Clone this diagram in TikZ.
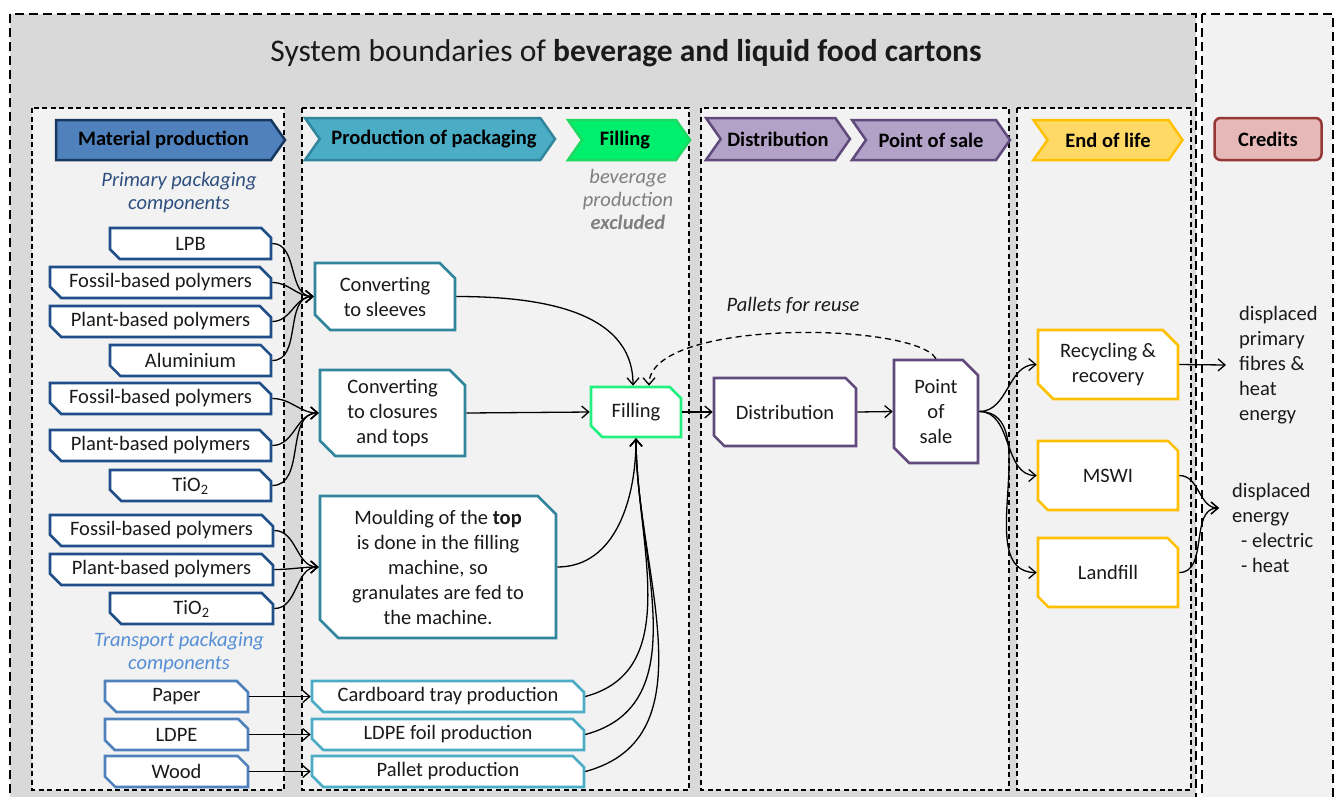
\documentclass[tikz,border=0pt]{standalone}
\usepackage{fontspec}
\setmainfont{Carlito}
\usetikzlibrary{shapes.misc,shapes.symbols,arrows.meta}
\definecolor{cGray}{HTML}{D9D9D9}
\definecolor{cPanel}{HTML}{F2F2F2}
\definecolor{cMatF}{HTML}{4F81BD}
\definecolor{cMatD}{HTML}{17375E}
\definecolor{cMatBox}{HTML}{1F4E89}
\definecolor{cTrBox}{HTML}{4F81BD}
\definecolor{cProdF}{HTML}{4BACC6}
\definecolor{cProdD}{HTML}{31859C}
\definecolor{cFillF}{HTML}{00F06E}
\definecolor{cFillD}{HTML}{1ED860}
\definecolor{cFillBox}{HTML}{22F07E}
\definecolor{cDistF}{HTML}{B3A2C7}
\definecolor{cDistD}{HTML}{604A7B}
\definecolor{cEolF}{HTML}{FFD966}
\definecolor{cEolD}{HTML}{FFC000}
\definecolor{cCredF}{HTML}{E6B9B8}
\definecolor{cCredD}{HTML}{953735}
\definecolor{cPrim}{HTML}{2E4F7F}
\definecolor{cTrans}{HTML}{558ED5}
\definecolor{cExcl}{HTML}{7F7F7F}
\definecolor{cText}{HTML}{1A1A1A}
\begin{document}
\begin{tikzpicture}[x=1pt,y=-1pt,
  txt/.style={font=\fontsize{20.5}{25}\selectfont, align=center, text=cText},
  hdr/.style={signal, signal to=east, signal from=west, signal pointer angle=110,
    line width=2.5pt, minimum height=40pt, inner sep=0pt,
    font=\fontsize{20.5}{25}\selectfont\bfseries, text=black},
  snip/.style={chamfered rectangle, chamfered rectangle corners={north east,south west},
    chamfered rectangle xsep=8pt, fill=white, line width=2.6pt, inner sep=0pt, txt},
  matbox/.style={snip, draw=cMatBox, minimum height=31pt},
  trbox/.style={snip, draw=cTrBox, minimum height=31pt},
  convbox/.style={snip, draw=cProdD, chamfered rectangle xsep=12pt},
  prodbox/.style={snip, draw=cProdF, minimum height=31pt, minimum width=272pt},
  eolbox/.style={snip, draw=cEolD, chamfered rectangle xsep=12pt, minimum width=140pt, minimum height=69pt},
  panel/.style={fill=cPanel, draw=black, line width=1.3pt, dash pattern=on 5pt off 3.5pt},
  outerb/.style={draw=black, line width=1.5pt, dash pattern=on 9pt off 5pt},
  conn/.style={line width=1.3pt, draw=black, -{Straight Barb[length=7pt,width=12pt]}},
  note/.style={font=\fontsize{20.5}{23}\selectfont\itshape, align=center}
]
\useasboundingbox (0,0) rectangle (1335,796);
\fill[white] (0,0) rectangle (1335,796);
% boundaries
\path[outerb, fill=cGray] (10,14) rectangle (1196,802);
\path[outerb, fill=cPanel] (1202,14) rectangle (1333,802);
\path[panel] (32,108) rectangle (284,790);
\path[panel] (302,108) rectangle (689,790);
\path[panel] (701,108) rectangle (1009,790);
\path[panel] (1017,108) rectangle (1191,790);

\node[font=\fontsize{31.5}{38}\selectfont, text=cText] (title) at (626,53)
  {System boundaries of \textbf{beverage and liquid food cartons}};

% headers
\node[hdr, signal from=nowhere, fill=cMatF, draw=cMatD, minimum width=229pt] (hMat) at (163.5,140) {Material production};
\node[hdr, fill=cProdF, draw=cProdD, minimum width=250pt, minimum height=42pt] (hProd) at (430,139) {\hspace*{8pt}Production of packaging};
\node[hdr, fill=cFillF, draw=cFillD, minimum width=122pt] (hFill) at (629,140) {Filling\hspace*{8pt}};
\node[hdr, fill=cDistF, draw=cDistD, minimum width=144pt, minimum height=42pt] (hDist) at (778,139) {Distribution};
\node[hdr, fill=cDistF, draw=cDistD, minimum width=158pt] (hPos) at (931,140) {Point of sale};
\node[hdr, fill=cEolF, draw=cEolD, minimum width=149pt] (hEol) at (1108,140) {End of life};
\node[rectangle, rounded corners=6pt, fill=cCredF, draw=cCredD, line width=2.5pt,
  minimum width=107pt, minimum height=42pt, inner sep=0pt,
  font=\fontsize{20.5}{25}\selectfont\bfseries] (hCred) at (1268,139) {Credits};

% notes
\node[note, text=cPrim] (prim) at (179,192.5) {Primary packaging\\components};
\node[note, text=cTrans] (trans) at (179,653) {Transport packaging\\components};
\node[note, text=cExcl] (excl) at (628,199.5) {beverage\\production\\\textbf{excluded}};
\node[note, text=cText] (reuse) at (793,306) {Pallets for reuse};

% material boxes
\node[matbox, minimum width=161pt] (m1) at (190.5,243.5) {LPB};
\node[matbox, minimum width=221pt] (m2) at (160.5,282.5) {Fossil-based polymers};
\node[matbox, minimum width=221pt] (m3) at (160.5,321.5) {Plant-based polymers};
\node[matbox, minimum width=161pt] (m4) at (190.5,360.5) {Aluminium};
\node[matbox, minimum width=221pt] (m5) at (160.5,398.5) {Fossil-based polymers};
\node[matbox, minimum width=221pt] (m6) at (160.5,445.5) {Plant-based polymers};
\node[matbox, minimum width=161pt] (m7) at (190.5,485.5) {TiO\textsubscript{2}};
\node[matbox, minimum width=223pt] (m8) at (161.5,530.5) {Fossil-based polymers};
\node[matbox, minimum width=223pt] (m9) at (161.5,569.5) {Plant-based polymers};
\node[matbox, minimum width=163pt] (m10) at (191.5,608.5) {TiO\textsubscript{2}};
\node[trbox, minimum width=143pt] (t1) at (176.5,696.5) {Paper};
\node[trbox, minimum width=143pt] (t2) at (176.5,734.5) {LDPE};
\node[trbox, minimum width=143pt] (t3) at (176.5,771.5) {Wood};

% production boxes
\node[convbox, minimum width=140pt, minimum height=67pt] (csl) at (385,296.5) {Converting\\to sleeves};
\node[convbox, minimum width=145pt, minimum height=86pt] (ccl) at (392.5,413) {Converting\\to closures\\and tops};
\node[convbox, chamfered rectangle xsep=15pt, minimum width=236pt, minimum height=142pt] (mould) at (438,567)
  {Moulding of the \textbf{top}\\is done in the filling\\machine, so\\granulates are fed to\\the machine.};
\node[prodbox] (card) at (448,696.5) {Cardboard tray production};
\node[prodbox] (foil) at (448,734.5) {LDPE foil production};
\node[prodbox] (pal) at (448,771.5) {Pallet production};

% filling, distribution, sale
\node[snip, draw=cFillBox, minimum width=90pt, minimum height=50pt] (fill) at (636,412) {Filling};
\node[snip, draw=cDistD, chamfered rectangle xsep=12pt, minimum width=142pt, minimum height=68pt] (dist) at (785,412) {Distribution};
\node[snip, draw=cDistD, chamfered rectangle xsep=12pt, minimum width=84pt, minimum height=103pt] (pos) at (936,411.5) {Point\\of\\sale};

% end of life
\node[eolbox] (rec) at (1108,364.5) {Recycling \&\\recovery};
\node[eolbox] (mswi) at (1108,475.5) {MSWI};
\node[eolbox] (land) at (1108,572.5) {Landfill};

% credits text
\node[txt, align=left, anchor=west, inner sep=0pt] (cr1) at (1239,365.5)
  {displaced\\primary\\fibres \&\\heat\\energy};
\node[txt, align=left, anchor=west, inner sep=0pt] (cr2) at (1232,527.5)
  {displaced\\energy\\\hspace*{9pt}- electric\\\hspace*{9pt}- heat};

\coordinate (c1) at (1226,365);
\coordinate (c2) at (1219,508);

% connectors: materials -> converting
\foreach \m in {m1,m2,m3,m4} \draw[conn] (\m.east) to[out=0,in=180] (csl.west);
\foreach \m in {m5,m6,m7} \draw[conn] (\m.east) to[out=0,in=180] (ccl.west);
\foreach \m in {m8,m9,m10} \draw[conn] (\m.east) to[out=0,in=180] (mould.west);
\draw[conn] (t1.east) -- (card.west);
\draw[conn] (t2.east) -- (foil.west);
\draw[conn] (t3.east) -- (pal.west);

% converting -> filling
\draw[conn] (csl.east) to[out=0,in=90] ([xshift=-3pt]fill.north);
\draw[conn] (ccl.east) -- (fill.west);
\draw[conn] (mould.east) to[out=0,in=-90] (fill.south);
\foreach \p in {card,foil,pal} \draw[conn] (\p.east) to[out=15,in=-90] (fill.south);

% reuse loop
\draw[conn, dash pattern=on 6pt off 4pt] (pos.north) .. controls (915,322) and (649,318) .. ([xshift=13pt]fill.north);

\draw[conn] (fill.east) -- (dist.west);
\draw[conn] (dist.east) -- (pos.west);
\foreach \e in {rec,mswi,land} \draw[conn] (pos.east) to[out=0,in=180] (\e.west);
\draw[conn] (rec.east) -- (c1);
\draw[conn] (mswi.east) to[out=0,in=180] (c2);
\draw[conn] (land.east) to[out=0,in=180] (c2);
\end{tikzpicture}
\end{document}
